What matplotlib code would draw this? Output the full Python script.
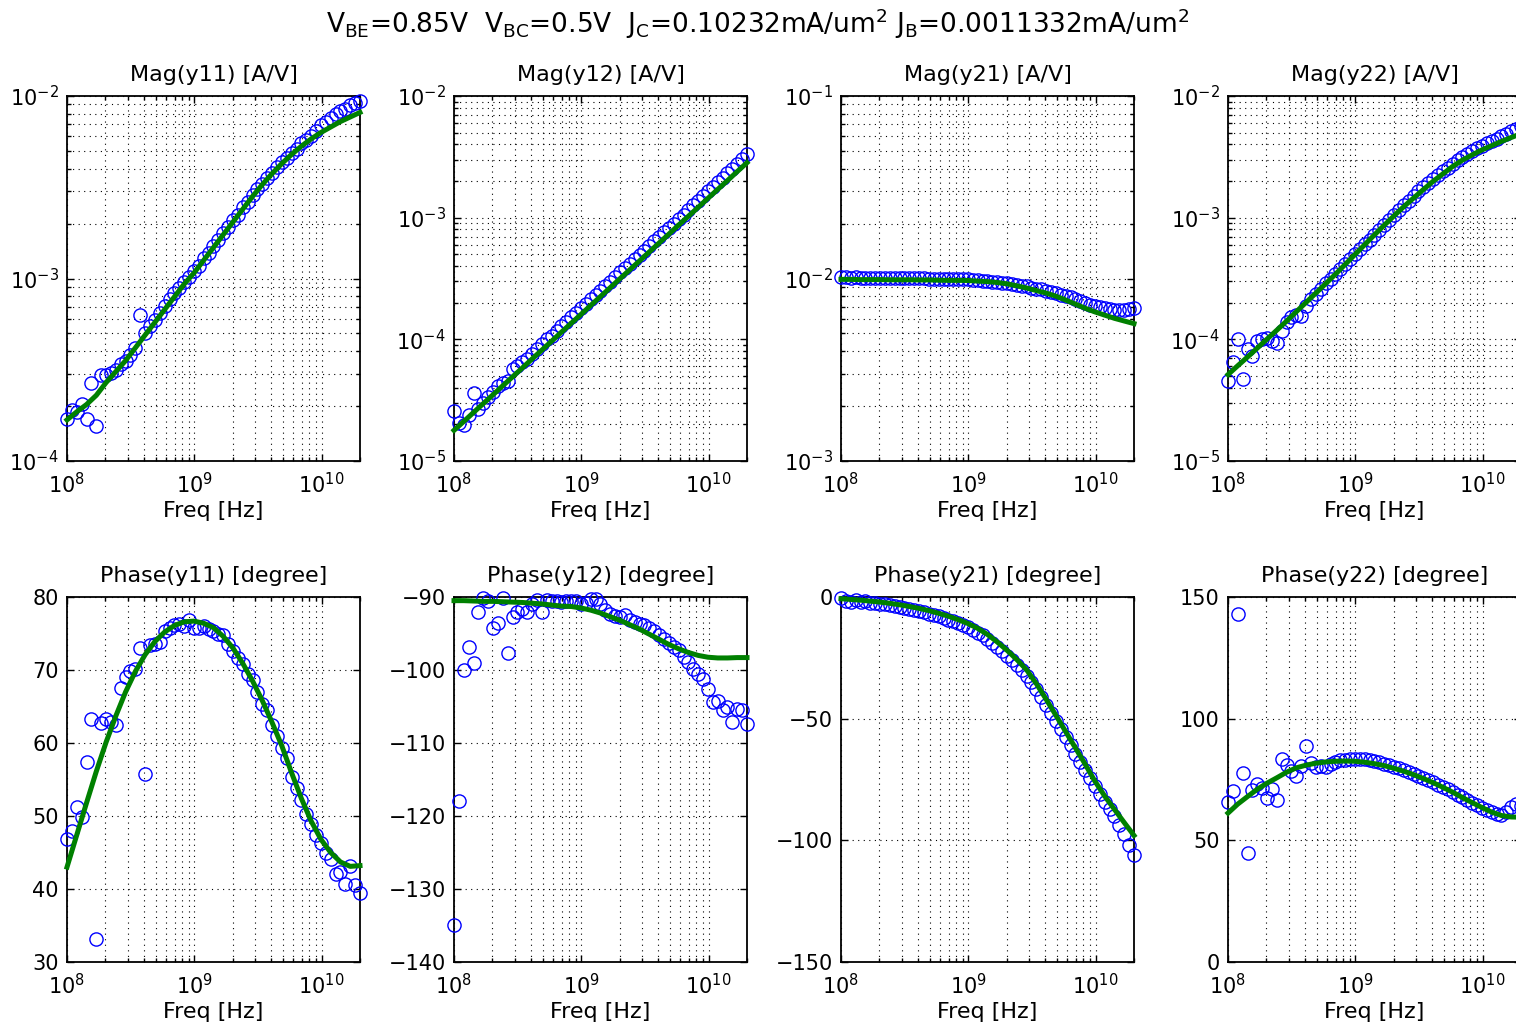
import numpy as np
import matplotlib
matplotlib.use('Agg')
import matplotlib.pyplot as plt
from matplotlib.ticker import LogLocator, NullFormatter

# frequency sweep (GHz), measured points; the model is evaluated on every other point
freq_ghz = [0.1, 0.1092, 0.1193, 0.1303, 0.1424, 0.1555, 0.1698, 0.1855, 0.2027, 0.2214,
            0.2418, 0.2641, 0.2885, 0.3151, 0.3442, 0.3760, 0.4107, 0.4486, 0.4900, 0.5352,
            0.5846, 0.6388, 0.6978, 0.7622, 0.8326, 0.9094, 0.9934, 1.085, 1.185, 1.295,
            1.414, 1.545, 1.687, 1.843, 2.013, 2.199, 2.402, 2.624, 2.866, 3.131,
            3.420, 3.736, 4.081, 4.457, 4.869, 5.318, 5.809, 6.345, 6.931, 7.571,
            8.270, 9.034, 9.868, 10.78, 11.77, 12.86, 14.05, 15.34, 16.76, 18.31, 20.0]

# magnitudes in mA/V
mag_y11_meas = [0.170, 0.191, 0.186, 0.204, 0.170, 0.269, 0.155, 0.295, 0.295, 0.302,
                0.316, 0.339, 0.355, 0.380, 0.417, 0.631, 0.501, 0.550, 0.589, 0.646,
                0.708, 0.776, 0.832, 0.891, 0.955, 1.023, 1.096, 1.175, 1.288, 1.380,
                1.514, 1.622, 1.778, 1.905, 2.089, 2.239, 2.455, 2.630, 2.884, 3.090,
                3.311, 3.548, 3.802, 4.074, 4.365, 4.571, 4.898, 5.129, 5.495, 5.754,
                6.026, 6.457, 6.918, 7.244, 7.586, 7.943, 8.318, 8.511, 8.913, 9.120, 9.333]
mag_y11_model = [0.168, 0.186, 0.204, 0.229, 0.269, 0.309, 0.355, 0.417, 0.490, 0.575,
                 0.676, 0.794, 0.933, 1.072, 1.259, 1.479, 1.738, 2.042, 2.399, 2.818,
                 3.273, 3.758, 4.266, 4.786, 5.309, 5.821, 6.310, 6.761, 7.244, 7.674, 8.128]

mag_y12_meas = [0.02570, 0.02042, 0.01995, 0.02399, 0.03631, 0.02692, 0.03020, 0.03388, 0.03715, 0.04169,
                0.04365, 0.04571, 0.05754, 0.06026, 0.06457, 0.06918, 0.07586, 0.08318, 0.09120, 0.1000,
                0.1072, 0.1175, 0.1288, 0.1380, 0.1514, 0.1660, 0.1799, 0.1950, 0.2138, 0.2317,
                0.2512, 0.2754, 0.2985, 0.3236, 0.3548, 0.3846, 0.4169, 0.4571, 0.4955, 0.5370,
                0.5888, 0.6383, 0.6918, 0.7586, 0.8222, 0.8913, 0.9772, 1.059, 1.161, 1.259,
                1.380, 1.496, 1.641, 1.778, 1.950, 2.113, 2.317, 2.512, 2.754, 3.020, 3.311]
mag_y12_model = [0.01786, 0.02113, 0.02506, 0.02965, 0.03508, 0.04159, 0.04920, 0.05821, 0.06902, 0.08166,
                 0.09661, 0.1146, 0.1355, 0.1603, 0.1901, 0.2249, 0.2661, 0.3155, 0.3733, 0.4416,
                 0.5236, 0.6194, 0.7328, 0.8690, 1.028, 1.216, 1.442, 1.706, 2.018, 2.393, 2.831]

mag_y21_meas = [10.19, 10.14, 10.12, 10.14, 10.12, 10.09, 10.12, 10.09, 10.09, 10.07,
                10.09, 10.07, 10.07, 10.05, 10.07, 10.05, 10.05, 10.02, 10.00, 10.00,
                9.98, 9.98, 9.95, 9.95, 9.93, 9.93, 9.91, 9.82, 9.77, 9.72,
                9.66, 9.59, 9.53, 9.46, 9.40, 9.33, 9.25, 9.14, 9.04, 8.91,
                8.81, 8.71, 8.59, 8.45, 8.32, 8.17, 8.02, 7.87, 7.71, 7.50,
                7.33, 7.19, 7.08, 6.97, 6.87, 6.79, 6.73, 6.70, 6.73, 6.79, 6.92]
mag_y21_model = [9.89, 9.89, 9.86, 9.86, 9.86, 9.84, 9.84, 9.84, 9.82, 9.82,
                 9.79, 9.77, 9.77, 9.75, 9.68, 9.62, 9.51, 9.35, 9.12, 8.87,
                 8.59, 8.32, 8.00, 7.62, 7.24, 6.87, 6.56, 6.30, 6.05, 5.85, 5.66]

mag_y22_meas = [0.04571, 0.06457, 0.1000, 0.04677, 0.08318, 0.07244, 0.09772, 0.1000, 0.1023, 0.09772,
                0.09333, 0.1175, 0.1380, 0.1514, 0.1585, 0.1549, 0.1862, 0.2138, 0.2344, 0.2570,
                0.2884, 0.3162, 0.3467, 0.3802, 0.4169, 0.4571, 0.5012, 0.5495, 0.6026, 0.6607,
                0.7244, 0.7943, 0.8710, 0.9550, 1.047, 1.148, 1.259, 1.380, 1.514, 1.641,
                1.778, 1.928, 2.089, 2.239, 2.399, 2.570, 2.754, 2.951, 3.162, 3.350,
                3.548, 3.715, 3.890, 4.074, 4.266, 4.467, 4.677, 4.898, 5.129, 5.370, 5.623]
mag_y22_model = [0.0513, 0.0607, 0.0716, 0.0847, 0.1005, 0.1189, 0.1413, 0.1687, 0.2014, 0.2399,
                 0.2864, 0.3428, 0.4130, 0.4977, 0.5998, 0.7228, 0.8670, 1.035, 1.233, 1.449,
                 1.702, 1.991, 2.291, 2.636, 2.972, 3.281, 3.606, 3.908, 4.236, 4.560, 4.898]

# phases in degree
ph_y11_meas = [46.9, 47.9, 51.2, 49.9, 57.4, 63.3, 33.2, 62.8, 63.3, 62.9,
               62.4, 67.6, 69.0, 69.8, 70.2, 73.0, 55.8, 73.4, 73.6, 73.8,
               75.4, 75.7, 76.1, 76.3, 76.0, 76.8, 75.7, 75.8, 76.0, 75.6,
               75.4, 74.9, 74.8, 73.5, 72.6, 71.6, 70.8, 69.4, 68.6, 67.0,
               65.4, 64.5, 62.4, 61.0, 59.3, 57.9, 55.4, 53.8, 52.2, 50.3,
               48.9, 47.4, 46.3, 45.0, 44.1, 42.0, 42.3, 40.7, 43.2, 40.5, 39.4]
ph_y11_model = [43.0, 47.4, 51.8, 56.1, 60.1, 63.7, 67.0, 69.8, 72.1, 73.9,
                75.2, 76.1, 76.6, 76.7, 76.4, 75.8, 74.6, 73.0, 70.9, 68.5,
                65.8, 62.8, 59.6, 55.9, 52.4, 49.3, 46.8, 45.0, 43.7, 43.1, 43.2]

ph_y12_meas = [-135.0, -117.9, -100.0, -96.9, -99.0, -92.0, -90.2, -90.6, -94.3, -93.6,
               -90.2, -97.7, -92.7, -92.1, -91.6, -92.0, -91.0, -90.4, -92.0, -90.4,
               -90.6, -90.5, -90.7, -90.5, -90.6, -90.5, -91.0, -90.8, -90.3, -90.3,
               -90.9, -91.8, -92.3, -92.6, -92.7, -92.5, -93.2, -93.4, -93.65, -93.9,
               -94.3, -94.6, -95.2, -95.8, -96.3, -96.9, -97.3, -98.2, -98.9, -99.8,
               -100.6, -101.3, -102.6, -104.4, -104.2, -105.5, -105.1, -107.1, -105.3, -105.5, -107.4]
ph_y12_model = [-90.5, -90.5, -90.55, -90.6, -90.6, -90.65, -90.7, -90.75, -90.85, -90.95,
                -91.1, -91.25, -91.3, -91.5, -91.8, -92.2, -92.7, -93.2, -93.8, -94.4,
                -95.1, -95.8, -96.5, -97.1, -97.6, -98.0, -98.25, -98.35, -98.35, -98.3, -98.3]

ph_y21_meas = [-0.3, -1.5, -2.0, -1.2, -2.2, -1.8, -2.5, -2.4, -2.9, -3.0,
               -3.4, -3.6, -4.0, -4.5, -4.8, -5.4, -5.8, -6.3, -6.9, -7.4,
               -8.0, -8.7, -9.3, -10.0, -10.8, -11.6, -12.5, -13.5, -14.6, -15.8,
               -17.2, -18.8, -20.5, -22.3, -24.1, -26.0, -28.0, -30.2, -32.4, -35.0,
               -37.9, -41.0, -44.2, -47.5, -50.8, -54.2, -57.6, -61.0, -64.4, -67.7,
               -71.0, -74.4, -77.8, -81.0, -84.1, -87.0, -89.9, -93.5, -97.3, -102.0, -106.2]
ph_y21_model = [-0.7, -1.0, -1.3, -1.7, -2.1, -2.6, -3.2, -3.9, -4.7, -5.6,
                -6.7, -7.9, -9.3, -10.9, -12.9, -15.4, -18.5, -21.9, -25.7, -29.9,
                -35.6, -42.0, -48.6, -55.3, -62.0, -68.7, -75.7, -81.8, -87.3, -92.7, -98.0]

ph_y22_meas = [65.8, 70.3, 142.9, 77.7, 44.8, 70.8, 73.0, 71.4, 67.5, 71.2,
               66.4, 83.6, 80.8, 78.5, 76.3, 80.5, 88.6, 81.8, 80.1, 80.5,
               80.1, 81.3, 82.2, 82.9, 83.2, 83.6, 83.6, 83.5, 83.3, 82.9,
               82.5, 82.0, 81.5, 80.9, 80.3, 79.6, 78.9, 78.1, 77.3, 76.5,
               75.6, 74.8, 73.9, 72.9, 71.9, 70.9, 69.9, 68.8, 67.7, 66.6,
               65.5, 64.4, 63.3, 62.3, 61.5, 60.8, 60.3, 61.5, 63.5, 65.1, 64.0]
ph_y22_model = [61.2, 64.9, 68.0, 71.0, 73.5, 75.7, 78.0, 79.8, 80.9, 81.7,
                82.2, 82.5, 82.6, 82.5, 82.1, 81.5, 80.7, 79.6, 78.4, 77.0,
                75.4, 73.7, 71.8, 69.8, 67.6, 65.5, 63.5, 61.6, 60.2, 59.6, 59.5]

plt.rcParams['font.family'] = 'DejaVu Sans'
plt.rcParams['mathtext.default'] = 'regular'

freq = np.array(freq_ghz) * 1e9
freq_m = freq[::2]

# title, measured, model, scale, ylim, yticks
panels = [
    ('Mag(y11) [A/V]', np.array(mag_y11_meas) * 1e-3, np.array(mag_y11_model) * 1e-3, 'log', (1e-4, 1e-2), [1e-4, 1e-3, 1e-2]),
    ('Mag(y12) [A/V]', np.array(mag_y12_meas) * 1e-3, np.array(mag_y12_model) * 1e-3, 'log', (1e-5, 1e-2), [1e-5, 1e-4, 1e-3, 1e-2]),
    ('Mag(y21) [A/V]', np.array(mag_y21_meas) * 1e-3, np.array(mag_y21_model) * 1e-3, 'log', (1e-3, 1e-1), [1e-3, 1e-2, 1e-1]),
    ('Mag(y22) [A/V]', np.array(mag_y22_meas) * 1e-3, np.array(mag_y22_model) * 1e-3, 'log', (1e-5, 1e-2), [1e-5, 1e-4, 1e-3, 1e-2]),
    ('Phase(y11) [degree]', ph_y11_meas, ph_y11_model, 'linear', (30, 80), [30, 40, 50, 60, 70, 80]),
    ('Phase(y12) [degree]', ph_y12_meas, ph_y12_model, 'linear', (-140, -90), [-140, -130, -120, -110, -100, -90]),
    ('Phase(y21) [degree]', ph_y21_meas, ph_y21_model, 'linear', (-150, 0), [-150, -100, -50, 0]),
    ('Phase(y22) [degree]', ph_y22_meas, ph_y22_model, 'linear', (0, 150), [0, 50, 100, 150]),
]

W, H = 1516, 1025
fig = plt.figure(figsize=(W / 100, H / 100), dpi=100)

col_left = [67, 454, 841, 1228]
row_bottom = [461, 962]
ax_w, ax_h = 293, 365
dots = (0, (1, 4))

for n, (title, meas, model, yscale, ylim, yticks) in enumerate(panels):
    r, c = divmod(n, 4)
    ax = fig.add_axes([col_left[c] / W, 1 - row_bottom[r] / H, ax_w / W, ax_h / H])
    ax.plot(freq, meas, 'o', mfc='none', mec='#0000ff', ms=9.5, mew=1.0, clip_on=False, zorder=3)
    ax.plot(freq_m, model, '-', color='#008000', lw=3.6, clip_on=False, zorder=4)
    ax.set_xscale('log')
    ax.set_yscale(yscale)
    ax.set_xlim(1e8, 2e10)
    ax.set_ylim(*ylim)
    ax.set_xticks([1e8, 1e9, 1e10])
    ax.xaxis.set_minor_locator(LogLocator(base=10, subs=np.arange(2, 10), numticks=30))
    ax.xaxis.set_minor_formatter(NullFormatter())
    ax.set_yticks(yticks)
    if yscale == 'log':
        ax.yaxis.set_minor_locator(LogLocator(base=10, subs=np.arange(2, 10), numticks=30))
        ax.yaxis.set_minor_formatter(NullFormatter())
        ax.grid(True, which='both', axis='both', color='k', lw=0.8, linestyle=dots)
    else:
        ax.grid(True, which='major', axis='both', color='k', lw=0.8, linestyle=dots)
        ax.grid(True, which='minor', axis='x', color='k', lw=0.8, linestyle=dots)
    ax.set_axisbelow(True)
    ax.tick_params(which='both', direction='in', top=True, right=True, width=1.0, labelsize=15)
    ax.tick_params(axis='x', which='major', pad=8)
    ax.tick_params(axis='y', which='major', pad=6)
    ax.tick_params(which='major', length=5)
    ax.tick_params(which='minor', length=3)
    for sp in ax.spines.values():
        sp.set_linewidth(1.3)
    ax.set_title(title, fontsize=16, pad=11)
    ax.set_xlabel('Freq [Hz]', fontsize=16, labelpad=3)

fig.text(0.5, 1 - 33 / H,
         'V$_{BE}$=0.85V  V$_{BC}$=0.5V  J$_{C}$=0.10232mA/um$^{2}$ J$_{B}$=0.0011332mA/um$^{2}$',
         ha='center', va='baseline', fontsize=19)

fig.savefig('out.png', dpi=100)
